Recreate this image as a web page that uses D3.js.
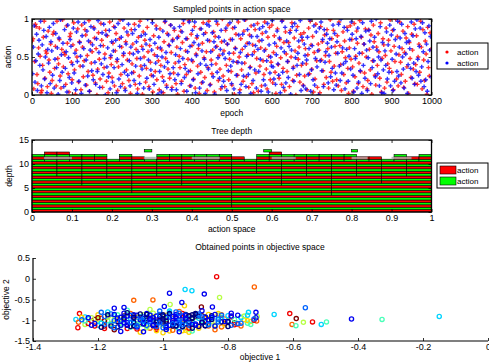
<!DOCTYPE html>
<html><head><meta charset="utf-8">
<script src="https://cdn.jsdelivr.net/npm/d3@7"></script>
<style>body{margin:0;background:#fff} text{font-family:"Liberation Sans",Arial,sans-serif;fill:#000}</style>
</head><body><svg id="c" width="489" height="364"></svg>
<script>
// ---------- Panel 1 data: sampled actions (percent of action range), one per sample ----------
const epochMax = 1000;
const redActions = [
71,74,8,44,93,90,27,15,62,88,51,3,6,39,76,97,22,58,55,11,
84,46,30,67,2,19,80,83,35,64,12,97,48,41,73,25,9,60,99,37,
56,53,14,91,68,28,4,77,81,43,20,66,95,33,1,59,50,87,17,70,
38,7,92,63,24,45,86,79,13,52,31,98,5,69,42,57,26,89,75,16,
61,0,34,82,47,21,94,72,10,65,36,54,85,18,78,3,29,96,49,40,
23,68,90,12,58,81,44,6,37,74,99,27,63,15,52,88,9,70,33,46,
79,19,55,2,86,41,67,30,93,14,60,48,8,76,25,97,38,64,1,83,
50,72,17,35,89,57,11,65,43,26,100,4,78,53,31,91,20,62,45,7,
87,39,59,24,3,70,96,48,13,81,34,66,22,92,56,10,73,29,85,42,
15,63,1,77,51,36,84,18,69,94,5,40,58,27,74,47,98,12,32,80,
65,44,21,90,9,54,75,38,61,2,87,30,16,68,95,49,23,82,57,6,
36,97,71,14,46,28,59,83,4,77,41,64,93,19,52,34,8,70,100,25,
58,11,85,39,67,92,20,47,73,31,13,88,55,1,62,80,43,26,96,50,
7,74,33,60,18,84,42,99,24,68,53,10,79,37,91,15,66,3,57,86,
29,48,94,5,71,38,62,12,81,45,27,96,60,34,8,76,51,89,20,43,
92,16,56,78,30,2,64,87,40,22,73,49,14,98,35,69,6,83,54,31,
44,69,11,85,50,95,19,37,75,58,0,26,90,47,63,17,80,39,72,13,
82,25,61,41,7,53,88,28,97,66,34,77,4,56,21,93,45,10,67,59,
3,90,46,70,32,14,79,52,23,86,61,9,44,99,30,74,18,85,38,64,
55,20,78,12,96,65,40,6,57,83,27,71,49,16,89,35,2,62,91,47,
73,37,5,94,24,51,84,68,15,42,98,31,76,55,11,67,29,87,50,8,
19,86,60,33,79,1,45,92,70,26,13,63,39,81,57,22,95,4,48,74,
66,9,52,88,17,41,72,35,99,58,30,85,7,64,44,100,21,77,12,53,
96,43,27,61,84,10,56,18,75,37,90,2,69,48,23,80,59,34,93,15,
40,78,14,50,67,30,97,63,8,86,46,19,71,54,1,89,36,25,82,60];
const blueActions = [
28,63,91,17,45,80,6,54,72,39,97,12,66,33,85,21,50,77,3,60,
42,89,15,70,58,26,94,9,47,81,36,62,1,75,19,99,53,30,68,11,
86,35,57,4,92,49,23,73,64,16,40,88,29,55,7,83,44,96,18,69,
51,2,78,38,61,95,13,46,84,25,71,5,59,90,32,66,20,87,43,14,
74,31,98,56,10,65,41,82,27,93,48,0,79,37,62,24,85,8,52,70,
17,58,36,89,72,3,47,94,21,64,11,76,40,99,55,30,6,67,83,26,
93,45,12,63,29,81,54,19,86,38,70,2,57,91,15,48,78,34,60,9,
39,80,67,22,100,46,8,73,33,59,95,25,14,68,42,87,51,1,76,31,
62,4,50,84,18,37,97,56,10,43,79,65,28,92,7,71,36,88,20,53,
7,75,27,44,90,61,15,83,48,99,23,35,74,5,57,31,96,64,12,46,
85,20,69,96,3,52,78,28,66,9,41,87,58,17,80,47,2,39,93,72,
34,91,13,57,40,82,24,70,1,63,97,30,49,76,22,60,85,11,54,18,
71,48,88,6,67,32,55,95,38,15,73,44,8,89,61,26,100,43,79,3,
56,14,42,80,25,99,64,11,51,86,27,68,36,2,77,53,19,92,33,65,
9,77,60,31,87,47,5,72,90,20,58,13,83,45,94,4,66,29,50,38,
98,37,21,68,14,53,84,41,26,75,3,62,97,30,10,57,89,16,71,44,
23,64,82,1,59,90,35,18,94,49,85,39,55,71,27,98,6,76,42,12,
67,52,8,46,76,27,61,99,5,33,65,20,91,13,48,83,37,58,0,88,
45,96,32,73,11,86,43,57,80,68,16,52,74,24,63,35,92,7,81,29,
13,70,55,93,38,19,100,29,62,41,89,8,44,60,85,18,51,73,34,96,
80,26,4,61,48,74,9,88,17,55,32,77,2,95,39,67,22,84,59,6,
49,85,71,15,97,36,63,45,76,24,100,59,28,50,12,90,46,3,69,33,
2,58,39,83,21,66,30,92,12,79,47,6,86,18,73,54,31,97,25,63,
75,16,93,50,34,9,81,54,69,2,40,71,61,35,96,22,78,42,14,87,
31,99,47,26,64,88,18,37,95,57,11,82,20,67,5,44,91,59,77,24];
const epochTicks = [0,100,200,300,400,500,600,700,800,900,1000];
const actionTicks = [0,0.5,1];
const legendLabels = ["action","action"];

// ---------- Panel 2 data: tree depth ----------
const splitPoints = [0.5,0.25,0.75,0.125,0.375,0.625,0.875,0.0625,0.1875,0.3125,0.4375,0.5625,0.6875,0.8125,0.9375];
const splitDepth  = [1.0,4.0,3.5,5.5,5.5,5.5,6.0,7.5,7.0,7.5,7.5,8.0,7.5,7.5,7.5];
const layerStep = 0.5;
const sharedTop = 10.5;
const leafTops = [12,12.5,12.5,12,12,12,11,12,11.5,11,12,12,12,12,12,12,11.5,11,12,12.5,12,12,12,12,12,12,11.5,11.5,11,12,11.5,12];
const floatLeaves = [[0.281,0.30,12.5,13],[0.58,0.60,12.5,13],[0.80,0.815,12.5,13]];
const greyLeaves = [[0.03,0.1],[0.28,0.31],[0.4,0.47],[0.6,0.66],[0.8,0.84],[0.9,0.95]];
const depthTicks = [0,5,10,15];
const spaceTicks = [0,0.1,0.2,0.3,0.4,0.5,0.6,0.7,0.8,0.9,1];

// ---------- Panel 3 data: objective space (x, y, colour index 0..9) ----------
const objX = [
-0.835,-0.719,-0.932,-0.911,-0.98,-0.873,-0.826,-1.031,-1.09,-0.942,-0.934,-0.978,-0.882,-0.848,-0.996,-0.562,-0.714,-0.658,-0.61,-0.59,
-0.603,-0.591,-0.568,-0.54,-0.513,-0.497,-0.42,-0.326,-0.15,-1.268,-1.262,-1.257,-0.737,-0.714,-0.712,-1.15,-1.12,-1.06,-0.92,-0.95,
-1.22,-1.19,-1.16,-1.12,-1.09,-1.05,-1.02,-0.99,-0.96,-0.93,-0.90,-0.87,-0.84,-0.81,-0.78,-0.75,-1.24,-1.20,-1.14,-1.10,
-1.07,-1.03,-1.00,-0.97,-0.94,-0.91,-0.88,-0.85,-0.82,-0.79,-1.18,-1.13,-1.08,-1.04,-1.01,-0.98,-0.95,-0.92,-0.89,-0.86,
-1.17,-1.11,-1.06,-0.99,-0.93,-0.87,-0.83,-0.77,-0.73,-1.21,
-1.23,-1.19,-1.15,-1.13,-1.10,-1.07,-1.04,-1.01,-0.98,-0.96,-0.94,-0.91,-0.89,-0.86,-0.83,-0.80,-0.76,-0.74,-1.17,-1.12,
-1.08,-1.05,-1.03,-1.00,-0.97,-0.95,-0.92,-0.90,-0.88,-0.85,-1.20,-1.14,-1.09,-1.06,-1.02,-0.99,-0.93,-0.87,-0.82,-0.78,
-1.26,-1.24,-1.22,-1.20,-1.18,-1.16,-1.14,-1.12,-1.10,-1.08,-1.06,-1.04,-1.02,-1.00,-0.98,-0.96,-0.94,-0.92,-0.90,-0.88,
-0.86,-0.84,-0.82,-0.80,-0.78,-0.76,-0.74,-0.72,-0.71,-0.73,-1.25,-1.21,-1.17,-1.13,-1.09,-1.05,-1.01,-0.97,-0.93,-0.89,
-0.85,-0.81,-0.77,-1.23,-1.19,-1.15,-1.11,-1.07,-1.03,-0.99,-0.95,-0.91,-0.87,-0.83,-0.79,-0.75,-1.20,-1.16,-1.12,-1.08,
-1.04,-1.00,-0.96,-0.92,-0.88,-0.84,-0.80,-1.18,-1.14,-1.10,-1.06,-1.02,-0.98,-0.94,-0.90,-0.86,-0.82,-1.15,-1.11,-1.07,
-1.03,-0.99,-0.95,-0.91,-0.87,-1.13,-1.09,-1.05,-1.01,-0.97,-0.93,-0.89,-1.10,-1.06,-1.02,-0.98,-0.94,-0.90,-1.08,-1.04,
-1.00,-0.96,-0.92,-1.05,-1.01,-0.97,-0.93,-1.07,-1.03,-0.99,-0.95,-0.91,-1.12,-1.09,-1.06,-1.03,-1.00,-0.97,-0.94,-0.91,
-0.88,-0.85,-1.15,-1.13,-1.11,-1.04,-1.02,-0.99,-0.96,-0.93,-1.19,-1.17,-0.83,-0.81,-0.79,-1.24,-0.76,-0.74,-1.22,-0.72,
-1.01,-0.98,-1.05,-0.95,-1.09,-0.92,-1.14,-0.89,-1.18,-0.86,
-1.21,-1.18,-1.16,-1.15,-1.13,-1.12,-1.11,-1.10,-1.09,-1.08,-1.07,-1.06,-1.05,-1.04,-1.03,-1.02,-1.01,-1.00,-0.99,-0.98,
-0.97,-0.96,-0.95,-0.94,-0.93,-0.92,-0.91,-0.90,-0.89,-0.88,-0.87,-0.86,-0.85,-0.84,-0.82,-0.80,-0.79,-0.77,-1.14,-1.11,
-1.08,-1.05,-1.03,-1.00,-0.98,-0.96,-0.94,-0.92,-0.90,-0.88,-1.17,-1.13,-1.10,-1.07,-1.04,-1.02,-0.99,-0.97,-0.95,-0.93,
-0.91,-0.89,-0.87,-0.85,-0.83,-1.19,-1.06,-1.01,-0.96,-0.94,-1.12,-1.09,-1.06,-1.03,-1.00,-0.97,-0.93,-0.90,-0.86,-0.81,
-1.15,-1.11,-0.99,-0.95,-0.91,-0.84,-0.80,-0.76,-1.23,-1.25];
const objY = [
0.05,-0.20,-0.26,-0.29,-0.35,-0.37,-0.45,-0.51,-0.52,-0.57,-0.65,-0.62,-0.68,-0.68,-0.67,-0.70,-0.81,-0.86,-0.84,-0.96,
-1.10,-1.13,-1.05,-1.04,-1.10,-1.04,-0.97,-0.98,-0.91,-0.98,-1.18,-0.84,-0.81,-0.94,-1.02,-0.71,-0.69,-1.28,-1.29,-1.28,
-1.02,-0.95,-1.08,-0.90,-1.15,-0.98,-1.22,-0.88,-1.05,-1.18,-0.93,-1.01,-1.12,-0.97,-1.06,-0.99,-1.10,-0.87,-0.99,-0.84,
-1.06,-0.91,-1.12,-0.95,-0.84,-1.09,-0.89,-1.03,-1.16,-0.92,-1.14,-1.04,-0.93,-1.19,-0.97,-1.26,-1.00,-0.90,-1.14,-0.86,
-0.91,-1.20,-0.87,-1.07,-1.24,-0.96,-0.88,-1.09,-1.03,-0.98,
-0.96,-1.06,-0.89,-1.13,-0.97,-1.10,-0.86,-1.02,-0.92,-1.16,-0.98,-1.04,-0.95,-1.08,-0.99,-1.02,-0.94,-1.07,-1.01,-0.92,
-1.03,-1.14,-0.95,-0.89,-1.09,-1.21,-0.96,-1.11,-1.00,-0.92,-1.12,-0.94,-1.08,-0.99,-1.05,-0.96,-1.02,-1.05,-0.93,-0.98,
-1.05,-0.92,-1.12,-0.99,-1.20,-0.85,-1.03,-0.94,-1.17,-0.88,-1.08,-0.96,-1.25,-1.02,-0.82,-1.13,-0.97,-1.22,-0.90,-1.06,
-0.99,-1.15,-0.87,-1.04,-1.11,-0.93,-1.01,-0.97,-0.91,-1.10,-0.93,-1.14,-0.80,-1.27,-0.89,-1.18,-0.78,-1.24,-0.86,-1.19,
-0.95,-1.07,-0.88,-1.08,-0.81,-1.23,-0.76,-1.29,-0.83,-1.16,-0.79,-1.26,-1.13,-0.84,-1.12,-0.90,-0.94,-1.10,-0.83,-1.21,
-0.74,-1.30,-0.80,-1.19,-0.77,-1.23,-0.89,-1.01,-0.87,-1.15,-0.96,-1.18,-0.78,-1.25,-0.85,-1.14,-1.04,-0.97,-1.06,-0.91,
-1.00,-1.13,-0.90,-1.05,-0.93,-1.08,-0.95,-1.12,-0.87,-1.06,-0.97,-1.15,-0.89,-1.03,-1.10,-0.92,-1.04,-0.86,-1.09,-0.96,
-1.07,-0.91,-1.12,-0.95,-1.02,-1.14,-0.88,-0.99,-1.10,-0.93,-1.05,-0.87,-0.98,-1.13,-0.92,-1.11,-0.90,-1.01,-1.16,-0.94,
-1.06,-0.89,-1.01,-0.93,-1.12,-0.88,-1.04,-1.15,-0.86,-1.09,-1.07,-0.93,-0.97,-1.11,-0.90,-1.02,-1.14,-0.88,-0.94,-1.00,
-0.91,-1.12,-1.00,-1.08,-0.87,-1.05,-0.95,-0.90,-1.10,-1.01,
-1.08,-0.91,-1.14,-0.86,-1.02,-0.95,-1.12,-0.88,-1.05,-1.16,-0.93,-1.09,-0.84,-1.03,-1.13,-0.90,-1.06,-0.97,-1.17,-0.87,
-1.11,-0.94,-1.01,-1.15,-0.89,-1.07,-0.96,-1.12,-0.85,-1.04,-0.92,-1.10,-0.98,-1.14,-0.88,-1.03,-0.83,-1.08,-1.16,-0.90,
-1.13,-0.86,-0.94,-1.18,-0.84,-1.06,-1.11,-0.89,-1.09,-0.92,-0.87,-1.12,-1.05,-0.85,-0.99,-1.15,-1.02,-0.91,-1.07,-0.95,
-1.10,-0.88,-1.13,-0.93,-1.04,-1.17,-1.08,-0.86,-1.14,-0.90,-1.06,-0.93,-1.01,-1.12,-0.87,-1.09,-0.96,-0.84,-1.11,-1.03,
-1.18,-0.82,-1.22,-0.83,-1.19,-0.86,-1.15,-1.07,-0.94,-0.99];
const objC = [
8,7,3,3,1,1,5,7,7,1,6,5,9,1,1,2,1,3,8,9,
7,4,5,8,3,4,1,4,3,3,8,8,3,1,7,1,1,1,6,1,
7,8,6,9,7,5,8,6,9,7,5,8,6,7,9,6,5,6,8,7,
9,6,5,7,8,6,9,5,7,8,9,5,6,7,8,6,5,9,7,6,
7,8,5,9,6,7,5,8,6,9,
3,4,3,4,3,4,3,4,3,4,3,4,3,4,3,4,3,4,4,3,
4,3,4,3,4,3,4,3,4,3,3,4,3,4,3,4,3,4,3,4,
7,3,1,5,8,2,0,6,4,1,2,9,6,0,3,1,7,5,0,2,
1,4,7,0,8,3,6,2,5,4,6,8,3,1,9,5,2,7,0,6,
3,7,1,8,2,9,4,6,5,3,7,4,0,6,2,5,9,3,1,8,
5,6,2,8,1,7,3,9,4,0,1,8,3,6,2,7,0,5,1,4,
0,2,1,3,0,4,1,2,0,1,2,0,1,3,0,2,1,0,4,1,
0,1,2,0,1,0,2,1,0,1,2,0,1,0,2,1,0,1,2,0,
1,0,2,1,0,1,0,2,1,0,3,5,2,6,1,4,7,3,5,8,
0,1,0,2,1,0,1,0,2,1,
1,2,0,1,2,0,1,2,0,1,2,0,1,2,0,1,2,0,1,2,
0,1,2,0,1,2,0,1,2,0,1,2,0,1,2,0,1,2,0,1,
2,0,1,2,0,1,2,0,1,2,0,1,2,0,1,2,0,1,2,0,
1,2,0,1,2,0,1,2,0,1,1,0,2,1,0,2,1,0,2,1,
2,0,1,2,0,1,0,2,1,2];
const obj1Ticks = [-1.4,-1.2,-1,-0.8,-0.6,-0.4,-0.2,0];
const obj2Ticks = [-1.5,-1,-0.5,0,0.5];

// ---------- drawing ----------
const svg = d3.select("#c");
const RED = "#ff0000", BLUE = "#0000ff", GREEN = "#00ff00";
const fmt = d => String(d);

function frameAxes(g, x, y, xt, yt, x0, x1, y0, y1) {
  g.append("g").attr("transform", `translate(0,${y0})`)
    .call(d3.axisBottom(x).tickValues(xt).tickSize(-3).tickPadding(3).tickFormat(fmt));
  g.append("g").attr("transform", `translate(0,${y1})`)
    .call(d3.axisTop(x).tickValues(xt).tickSize(-3).tickFormat(""));
  g.append("g").attr("transform", `translate(${x0},0)`)
    .call(d3.axisLeft(y).tickValues(yt).tickSize(-3).tickPadding(3).tickFormat(fmt));
  g.append("g").attr("transform", `translate(${x1},0)`)
    .call(d3.axisRight(y).tickValues(yt).tickSize(-3).tickFormat(""));
  g.selectAll(".domain").remove();
  g.selectAll(".tick line").attr("stroke", "#000").attr("stroke-width", 0.8);
  g.selectAll(".tick text").attr("font-size", 9).attr("font-family", '"Liberation Sans",Arial,sans-serif');
  g.append("rect").attr("x", x0).attr("y", y1).attr("width", x1 - x0).attr("height", y0 - y1)
    .attr("fill", "none").attr("stroke", "#000").attr("stroke-width", 1.3);
}
function label(t, x, y, rot, size) {
  const e = svg.append("text").attr("font-size", size || 8.5).attr("text-anchor", "middle").text(t);
  if (rot) e.attr("transform", `translate(${x},${y}) rotate(-90)`); else e.attr("x", x).attr("y", y);
  return e;
}

// Panel 1
{
  const L = 32, R = 431.5, T = 19, B = 95;
  const x = d3.scaleLinear([0, epochMax], [L, R]);
  const y = d3.scaleLinear([0, 1], [B, T]);
  svg.append("clipPath").attr("id", "cp1").append("rect").attr("x", L).attr("y", T).attr("width", R - L).attr("height", B - T);
  const g = svg.append("g").attr("clip-path", "url(#cp1)");
  const plus = (sel, data, col, off) => {
    const step = epochMax / data.length;
    sel.selectAll(null).data(data).join("path")
      .attr("d", (d, i) => { const px = x(i * step + off * step), py = y(d / 100);
        return `M${px - 2.2},${py}H${px + 2.2}M${px},${py - 2.2}V${py + 2.2}`; })
      .attr("stroke", col).attr("stroke-width", 1.4).attr("stroke-opacity", 0.8).attr("fill", "none");
  };
  plus(g.append("g"), redActions, RED, 0.25);
  plus(g.append("g"), blueActions, BLUE, 0.75);
  frameAxes(svg.append("g"), x, y, epochTicks, actionTicks, L, R, B, T);
  label("Sampled points in action space", (L + R) / 2, 12);
  label("epoch", (L + R) / 2, 116);
  label("action", 11, (T + B) / 2, true);
  const lg = svg.append("g");
  lg.append("rect").attr("x", 437).attr("y", 43).attr("width", 51).attr("height", 26).attr("fill", "#fff").attr("stroke", "#000").attr("stroke-width", 1);
  [RED, BLUE].forEach((c, i) => {
    lg.append("circle").attr("cx", 447).attr("cy", 52 + i * 11).attr("r", 1.6).attr("fill", c);
    lg.append("text").attr("x", 457).attr("y", 55 + i * 11).attr("font-size", 8).text(legendLabels[i]);
  });
}

// Panel 2
{
  const L = 32, R = 431.5, T = 140, B = 212;
  const x = d3.scaleLinear([0, 1], [L, R]);
  const y = d3.scaleLinear([0, 15], [B, T]);
  const g = svg.append("g");
  const cells = [];
  for (let r = 0; r * layerStep < sharedTop; r++) {
    const y0 = r * layerStep;
    const bounds = [0, 1, ...splitPoints.filter((p, i) => splitDepth[i] <= y0 + 1e-9)].sort((a, b) => a - b);
    for (let k = 0; k < bounds.length - 1; k++) cells.push({ a: bounds[k], b: bounds[k + 1], y0, y1: y0 + layerStep, c: r % 2 ? GREEN : RED });
  }
  leafTops.forEach((top, i) => {
    const a = i / leafTops.length, b = (i + 1) / leafTops.length;
    for (let y0 = sharedTop; y0 < top - 1e-9; y0 += layerStep) {
      const r = Math.round(y0 / layerStep);
      cells.push({ a, b, y0, y1: y0 + layerStep, c: r % 2 ? GREEN : RED });
    }
  });
  floatLeaves.forEach(f => cells.push({ a: f[0], b: f[1], y0: f[2], y1: f[3], c: GREEN }));
  g.selectAll(null).data(cells).join("rect")
    .attr("x", d => x(d.a)).attr("y", d => y(d.y1))
    .attr("width", d => x(d.b) - x(d.a)).attr("height", d => y(d.y0) - y(d.y1))
    .attr("fill", d => d.c).attr("stroke", "#000").attr("stroke-width", 0.6);
  g.selectAll(null).data(greyLeaves).join("rect")
    .attr("x", d => x(d[0])).attr("y", y(11.5)).attr("width", d => x(d[1]) - x(d[0])).attr("height", y(11) - y(11.5))
    .attr("fill", "#aaa").attr("opacity", 0.8);
  frameAxes(svg.append("g"), x, y, spaceTicks, depthTicks, L, R, B, T);
  label("Tree depth", (L + R) / 2, 134);
  label("action space", (L + R) / 2, 232);
  label("depth", 12, (T + B) / 2, true);
  const lg = svg.append("g");
  lg.append("rect").attr("x", 437).attr("y", 163).attr("width", 51).attr("height", 25).attr("fill", "#fff").attr("stroke", "#000").attr("stroke-width", 1);
  [RED, GREEN].forEach((c, i) => {
    lg.append("rect").attr("x", 440).attr("y", 166 + i * 11).attr("width", 16).attr("height", 8).attr("fill", c).attr("stroke", "#000").attr("stroke-width", 0.6);
    lg.append("text").attr("x", 457).attr("y", 173 + i * 11).attr("font-size", 8).text(legendLabels[i]);
  });
}

// Panel 3
{
  const L = 33, R = 488, T = 258, B = 341;
  const x = d3.scaleLinear([-1.4, 0], [L, R]);
  const y = d3.scaleLinear([-1.5, 0.5], [B, T]);
  const jet = d3.scaleLinear([0, 0.125, 0.375, 0.625, 0.875, 1],
    ["#000080", "#0000ff", "#00ffff", "#ffff00", "#ff0000", "#800000"]);
  const pts = objX.map((v, i) => ({ x: v, y: objY[i], c: objC[i], i }));
  // blue samples drawn last so they sit on top, as in the reference
  pts.sort((a, b) => ((a.c <= 2) - (b.c <= 2)) || (a.i - b.i));
  svg.append("g").selectAll(null).data(pts).join("circle")
    .attr("cx", d => x(d.x)).attr("cy", d => y(d.y)).attr("r", 2.1)
    .attr("fill", "none").attr("stroke", d => jet(d.c / 9)).attr("stroke-width", 1.3);
  const g = svg.append("g");
  g.append("g").attr("transform", `translate(0,${B})`)
    .call(d3.axisBottom(x).tickValues(obj1Ticks).tickSize(-3).tickPadding(3).tickFormat(fmt));
  g.append("g").attr("transform", `translate(${L},0)`)
    .call(d3.axisLeft(y).tickValues(obj2Ticks).tickSize(-3).tickPadding(3).tickFormat(fmt));
  g.selectAll(".domain").remove();
  g.selectAll(".tick line").attr("stroke", "#000").attr("stroke-width", 0.8);
  g.selectAll(".tick text").attr("font-size", 9).attr("font-family", '"Liberation Sans",Arial,sans-serif');
  g.append("path").attr("d", `M${L},${T}V${B}H${R}`).attr("fill", "none").attr("stroke", "#000").attr("stroke-width", 1.2);
  label("Obtained points in objective space", 260, 250);
  label("objective 1", 260, 360);
  label("objective 2", 9, (T + B) / 2, true);
}
</script></body></html>
